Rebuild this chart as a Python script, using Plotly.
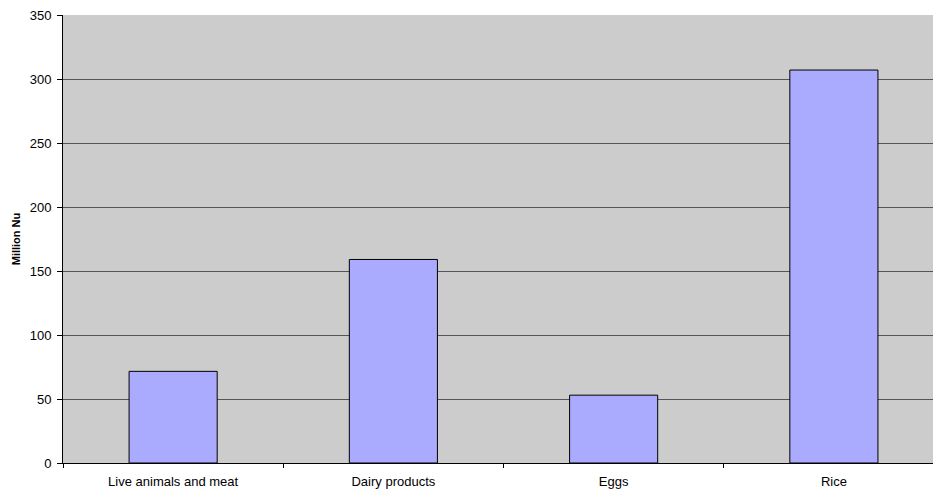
import plotly.graph_objects as go

categories = ["Live animals and meat", "Dairy products", "Eggs", "Rice"]
values = [71.6, 159, 53, 307]
y_ticks = [0, 50, 100, 150, 200, 250, 300, 350]

fig = go.Figure(
    go.Bar(
        x=categories,
        y=values,
        width=0.4,
        marker=dict(color="#aaaaff", line=dict(color="#000000", width=1)),
        hoverinfo="x+y",
    )
)

fig.update_layout(
    width=933,
    height=493,
    margin=dict(l=63, r=0, t=15, b=30),
    paper_bgcolor="#ffffff",
    plot_bgcolor="#cccccc",
    showlegend=False,
    font=dict(family="Liberation Sans, Arial, sans-serif", size=13, color="#000000"),
    bargap=0.6,
)

fig.update_xaxes(
    type="category",
    range=[-0.5, 3.45],
    showgrid=False,
    showline=True,
    linecolor="#000000",
    linewidth=1,
    ticks="outside",
    tickson="boundaries",
    ticklen=4,
    tickcolor="#000000",
    tickfont=dict(size=13),
    ticklabelstandoff=6,
)

fig.update_yaxes(
    range=[0, 350],
    tickvals=y_ticks,
    showgrid=True,
    gridcolor="#555555",
    gridwidth=1,
    zeroline=False,
    showline=True,
    linecolor="#000000",
    linewidth=1,
    ticks="outside",
    ticklen=5,
    tickcolor="#000000",
    tickfont=dict(size=13),
    ticklabelstandoff=3,
    title=dict(text="<b>Million Nu</b>", font=dict(size=11), standoff=6),
)

fig.write_html("out.html")
